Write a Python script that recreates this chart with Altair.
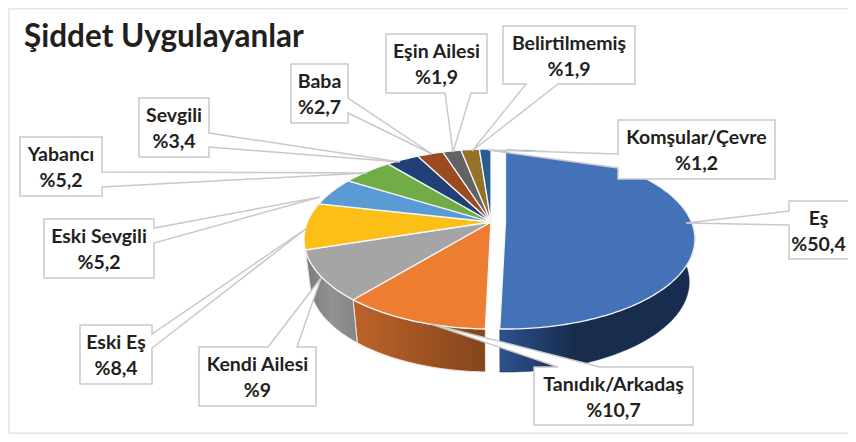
import math
import altair as alt
import pandas as pd

# ---- chart values ----
names = ["Eş", "Tanıdık/Arkadaş", "Kendi Ailesi", "Eski Eş", "Eski Sevgili", "Yabancı",
         "Sevgili", "Baba", "Eşin Ailesi", "Belirtilmemiş", "Komşular/Çevre"]
shares = [50.4, 10.7, 9.0, 8.4, 5.2, 5.2, 3.4, 2.7, 1.9, 1.9, 1.2]
share_labels = ["%50,4", "%10,7", "%9", "%8,4", "%5,2", "%5,2", "%3,4", "%2,7", "%1,9", "%1,9", "%1,2"]
colors = ["#4472b8", "#ed7d31", "#a5a5a5", "#fcbf16", "#5b9bd5", "#70ad47",
          "#214078", "#9c4a20", "#636363", "#967227", "#255e91"]
title_text = "Şiddet Uygulayanlar"

# ---- layout (page pixels) ----
OX, OY = 8, 8
APEX_X, APEX_Y = 491, 222
EXPLODE_X = 14.5
RX, RY, PERSP = 183.6, 86.8, 0.189
RX_BLUE = 186
DEPTH = 43
BOTTOM_SCALE = 0.97

# box x0, y0, x1, y1 ; side ; attach a, b ; tip x, y
callouts = [
    (789, 201, 870, 259, "left", 211, 225, 686, 223),
    (534, 367, 693, 425, "top", 558, 600, 431, 324),
    (199, 347, 316, 406, "top", 268, 297, 321, 278),
    (80, 325, 152, 384, "right", 334, 348, 307, 228),
    (44, 219, 154, 278, "right", 228, 243, 320, 197),
    (20, 137, 102, 196, "right", 172, 187, 367, 173),
    (139, 98, 209, 157, "right", 133, 147, 400, 162),
    (291, 64, 348, 123, "right", 98, 113, 432, 154),
    (386, 34, 487, 93, "bottom", 445, 471, 453, 152),
    (503, 26, 635, 84, "bottom", 526, 558, 472, 151),
    (618, 120, 775, 179, "left", 154, 168, 488, 150),
]
box_right_text = {0: 848}


def rim(t_deg, idx_blue=False, bottom=False):
    t = math.radians(t_deg)
    w = 1 + PERSP * math.cos(t)
    rx = RX_BLUE if idx_blue else RX
    cx = APEX_X + (EXPLODE_X if idx_blue else 0)
    scale = BOTTOM_SCALE if bottom else 1
    x = cx + scale * rx * math.sin(t) / w
    y = APEX_Y - RY * math.cos(t) / w + (DEPTH if bottom else 0)
    return [x - OX, y - OY]


def arc_pts(a, b, blue=False, bottom=False):
    n = max(2, int(abs(b - a)) + 2)
    return [rim(a + (b - a) * i / (n - 1), blue, bottom) for i in range(n)]


def feature(points, **props):
    ring = points + [points[0]]
    return {"type": "Feature", "properties": props,
            "geometry": {"type": "Polygon", "coordinates": [ring]}}


edges = [0.0]
for s in shares:
    edges.append(edges[-1] + s * 3.6)

tops = []
for i, c in enumerate(colors):
    blue = i == 0
    ax = APEX_X + (EXPLODE_X if blue else 0)
    apex = [ax - OX, APEX_Y - OY]
    tops.append(feature([apex] + arc_pts(edges[i], edges[i + 1], blue), color=c))


def wall(a, b, blue=False):
    return [feature(arc_pts(a, b, blue) + arc_pts(b, a, blue, True), color="x")]


def grad(stops):
    return alt.Gradient(gradient="linear", x1=0, x2=1, y1=0, y2=0,
                        stops=[alt.GradientStop(color=c, offset=o) for o, c in stops])


IDENT = dict(type="identity", scale=1, translate=[0, 0])

wall_layers = [
    alt.Chart(alt.Data(values=wall(80, edges[1], True))).mark_geoshape(
        fill=grad([(0, "#2c528f"), (0.38, "#182c4e"), (1, "#182c4e")]), stroke="#182c4e", strokeWidth=0.5
    ).project(**IDENT),
    alt.Chart(alt.Data(values=wall(edges[1], edges[2]))).mark_geoshape(
        fill=grad([(0, "#bd6229"), (1, "#84461d")]), stroke="#f5e6da", strokeWidth=1
    ).project(**IDENT),
    alt.Chart(alt.Data(values=wall(edges[2], edges[3]))).mark_geoshape(
        fill=grad([(0, "#7a7a7a"), (0.5, "#929292"), (1, "#858585")]), stroke="#e8e8e8", strokeWidth=1
    ).project(**IDENT),
]

top_layer = alt.Chart(alt.Data(values=tops)).mark_geoshape(
    stroke="#f4f6fa", strokeWidth=1.3
).encode(fill=alt.Fill("properties.color:N", scale=None)).project(**IDENT)

shapes = []
for (x0, y0, x1, y1, side, a, b, tx, ty) in callouts:
    x0, x1, y0, y1 = x0 - OX, x1 - OX, y0 - OY, y1 - OY
    tip = [tx - OX, ty - OY]
    tl, tr, br, bl = [x0, y0], [x1, y0], [x1, y1], [x0, y1]
    if side == "top":
        pts = [tl, [a - OX, y0], tip, [b - OX, y0], tr, br, bl]
    elif side == "right":
        pts = [tl, tr, [x1, a - OY], tip, [x1, b - OY], br, bl]
    elif side == "bottom":
        pts = [tl, tr, br, [b - OX, y1], tip, [a - OX, y1], bl]
    else:
        pts = [tl, tr, br, bl, [x0, b - OY], tip, [x0, a - OY]]
    shapes.append(feature(pts, color="white"))

callout_layer = alt.Chart(alt.Data(values=shapes)).mark_geoshape(
    fill="white", stroke="#c9c9c9", strokeWidth=1.5
).project(**IDENT)

rows = []
for i, c in enumerate(callouts):
    x1 = box_right_text.get(i, c[2])
    cx = (c[0] + x1) / 2 - OX
    rows.append({"x": cx, "y": c[1] + 18 - OY, "text": names[i]})
    rows.append({"x": cx, "y": c[1] + 44 - OY, "text": share_labels[i]})
text_df = pd.DataFrame(rows)

labels = alt.Chart(text_df).mark_text(
    font="Lato", fontWeight="bold", fontSize=19.5, color="#231f20", align="center", baseline="middle"
).encode(x=alt.X("x:Q", scale=None), y=alt.Y("y:Q", scale=None), text="text:N")

title = alt.Chart(pd.DataFrame({"text": [title_text]})).mark_text(
    font="Lato", fontWeight="bold", fontSize=31.5, color="#231f20", align="left", baseline="alphabetic"
).encode(x=alt.value(24 - OX), y=alt.value(47 - OY), text="text:N")

frame = alt.Chart(pd.DataFrame({"a": [0]})).mark_rect(
    fill="white", stroke="#e6e6e6", strokeWidth=1.5
).encode(x=alt.value(0.75), x2=alt.value(870), y=alt.value(0.75), y2=alt.value(425.25))

chart = alt.layer(frame, *wall_layers, top_layer, callout_layer, labels, title).properties(
    width=840, height=426, padding=0, autosize=alt.AutoSizeParams(type="none"), background="white"
).configure_view(stroke=None)

chart.save("out.html", embed_options={"renderer": "svg", "actions": False})
